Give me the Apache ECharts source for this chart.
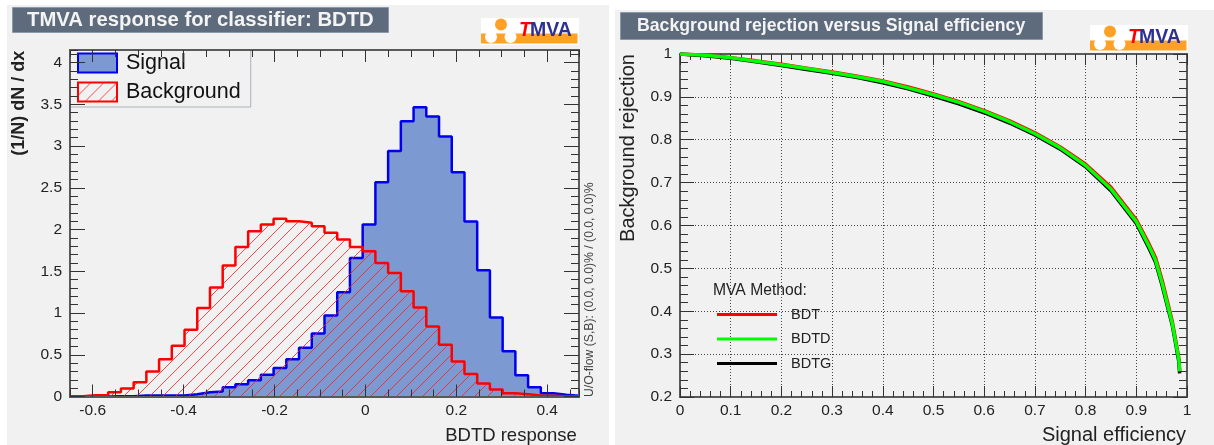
<!DOCTYPE html>
<html>
<head>
<meta charset="utf-8">
<style>html,body{margin:0;padding:0;background:#fff}#c{width:1214px;height:445px}</style>
<script src="https://cdn.jsdelivr.net/npm/echarts@6/dist/echarts.min.js"></script>
</head>
<body>
<div id="c"></div>
<script>
// ---- response histogram (40 bins) ----
const histMin = -0.65;
const histMax = 0.47;
const signalHist = [0,0,0,.004,.004,.012,.012,.012,.012,.028,.05,.06,.11,.148,.195,.26,.34,.447,.583,.754,.97,1.25,1.66,2.06,2.566,2.94,3.297,3.465,3.353,3.113,2.686,2.096,1.513,.946,.543,.255,.11,.04,.02,.008];
const backgroundHist = [.003,.015,.015,.05,.095,.17,.30,.447,.607,.80,1.06,1.305,1.57,1.79,1.98,2.06,2.13,2.10,2.08,2.04,1.96,1.88,1.79,1.74,1.60,1.48,1.26,1.066,.838,.62,.42,.27,.155,.085,.04,.028,.012,.008,.004,.002];
const histXTicks = [-0.6,-0.4,-0.2,0,0.2,0.4];
const histYTicks = [0,0.5,1,1.5,2,2.5,3,3.5,4];
// ---- ROC curves ----
const efficiency = [0,.05,.1,.15,.2,.25,.3,.35,.4,.45,.5,.55,.6,.65,.7,.75,.8,.85,.9,.925,.938,.951,.961,.971,.978,.984,.9855];
const rejBDT  = [1,.997,.991,.984,.976,.967,.958,.948,.937,.923,.907,.889,.868,.844,.816,.783,.743,.689,.613,.557,.525,.472,.424,.376,.330,.290,.262];
const rejBDTD = [1,.997,.991,.983,.975,.966,.957,.947,.936,.921,.905,.887,.866,.842,.814,.781,.740,.685,.609,.552,.519,.465,.418,.371,.326,.287,.260];
const rejBDTG = [1,.996,.990,.982,.973,.964,.955,.945,.933,.919,.902,.884,.863,.839,.811,.778,.737,.681,.605,.547,.514,.460,.413,.367,.322,.282,.255];

const FONT = '"Liberation Sans", Arial, sans-serif';
const frame = '#5a5a5a', tick = '#333', ink = '#222';

// Seamless hatch tile: a rising diagonal, repeated across tile borders.
function hatch(size, color, width) {
  const c = document.createElement('canvas');
  c.width = c.height = size;
  const g = c.getContext('2d');
  g.strokeStyle = color; g.lineWidth = width;
  [-size, 0, size].forEach(d => {
    g.beginPath(); g.moveTo(d - 1, size + 1); g.lineTo(d + size + 1, -1); g.stroke();
  });
  return {image: c, repeat: 'repeat'};
}
function stepData(values) {
  const w = (histMax - histMin) / values.length;
  const pts = values.map((v, i) => [histMin + i * w, v]);
  pts.push([histMax, values[values.length - 1]]);
  return pts;
}
function pairs(xs, ys) { return xs.map((x, i) => [x, ys[i]]); }

const lineOf = {show: true, onZero: false, lineStyle: {color: frame, width: 2}};
const hiddenLabel = {show: false};

function histAxis(pos, gridIndex, opts) {
  return Object.assign({
    type: 'value', gridIndex, position: pos, z: 10, axisLine: lineOf,
    splitLine: {show: false}, axisLabel: hiddenLabel
  }, opts);
}
const xAxes = [
  // minor layer
  histAxis('bottom',0,{min:histMin,max:histMax,interval:0.05,axisTick:{inside:true,length:7,lineStyle:{color:tick}}}),
  histAxis('top',0,{min:histMin,max:histMax,interval:0.05,axisTick:{inside:true,length:7,lineStyle:{color:tick}}}),
  // major layer
  histAxis('bottom',1,{min:histMin,max:histMax,
    axisTick:{inside:true,length:12,customValues:histXTicks,lineStyle:{color:tick}},
    axisLabel:{show:true,customValues:histXTicks,margin:6,fontFamily:FONT,fontSize:15.5,color:ink,formatter:v=>String(v)},
    name:'BDTD response',nameLocation:'middle',nameGap:30,
    nameTextStyle:{fontFamily:FONT,fontSize:18.5,color:ink,padding:[0,0,0,373]}}),
  histAxis('top',1,{min:histMin,max:histMax,axisTick:{inside:true,length:12,customValues:histXTicks,lineStyle:{color:tick}}}),
  // ROC
  {type:'value',gridIndex:2,position:'bottom',min:0,max:1,interval:0.1,axisLine:lineOf,
    axisTick:{inside:true,length:11,lineStyle:{color:tick}},
    minorTick:{show:true,splitNumber:5,length:6,lineStyle:{color:tick}},
    splitLine:{show:true,lineStyle:{color:'#444',type:[1,2],width:1}},
    axisLabel:{margin:6,fontFamily:FONT,fontSize:15.5,color:ink},
    name:'Signal efficiency',nameLocation:'middle',nameGap:28,
    nameTextStyle:{fontFamily:FONT,fontSize:20,color:ink,padding:[0,0,0,361]}},
  {type:'value',gridIndex:2,position:'top',min:0,max:1,interval:0.1,axisLine:lineOf,
    axisTick:{inside:true,length:11,lineStyle:{color:tick}},
    minorTick:{show:true,splitNumber:5,length:6,lineStyle:{color:tick}},
    splitLine:{show:false},axisLabel:hiddenLabel}
];
const yAxes = [
  histAxis('left',0,{min:0,max:4.15,interval:0.1,axisTick:{inside:true,length:8,lineStyle:{color:tick}}}),
  histAxis('right',0,{min:0,max:4.15,interval:0.1,axisTick:{inside:true,length:8,lineStyle:{color:tick}}}),
  histAxis('left',1,{min:0,max:4.15,
    axisTick:{inside:true,length:15,customValues:histYTicks,lineStyle:{color:tick}},
    axisLabel:{show:true,customValues:histYTicks,margin:8,fontFamily:FONT,fontSize:15.5,color:ink,formatter:v=>String(v)},
    name:'(1/N) dN / dx',nameLocation:'middle',nameGap:42,
    nameTextStyle:{fontFamily:FONT,fontSize:18,fontWeight:'bold',color:ink,padding:[0,0,0,240]}}),
  histAxis('right',1,{min:0,max:4.15,axisTick:{inside:true,length:15,customValues:histYTicks,lineStyle:{color:tick}}}),
  {type:'value',gridIndex:2,position:'left',min:0.2,max:1,interval:0.1,axisLine:lineOf,
    axisTick:{inside:true,length:14,lineStyle:{color:tick}},
    minorTick:{show:true,splitNumber:5,length:8,lineStyle:{color:tick}},
    splitLine:{show:true,lineStyle:{color:'#444',type:[1,2],width:1}},
    axisLabel:{margin:8,fontFamily:FONT,fontSize:15.5,color:ink},
    name:'Background rejection',nameLocation:'middle',nameGap:42,
    nameTextStyle:{fontFamily:FONT,fontSize:20,color:ink,padding:[0,0,0,155]}},
  {type:'value',gridIndex:2,position:'right',min:0.2,max:1,interval:0.1,axisLine:lineOf,
    axisTick:{inside:true,length:14,lineStyle:{color:tick}},
    minorTick:{show:true,splitNumber:5,length:8,lineStyle:{color:tick}},
    splitLine:{show:false},axisLabel:hiddenLabel}
];

function logo(x, y) {
  return {type:'group',x,y,children:[
    {type:'rect',shape:{x:0,y:0,width:98,height:27},style:{fill:'#fff'}},
    {type:'rect',shape:{x:0,y:15.5,width:96.5,height:10},style:{fill:'#ffa126'}},
    {type:'circle',shape:{cx:20,cy:6.5,r:6},style:{fill:'#ffa126'}},
    {type:'circle',shape:{cx:10,cy:19,r:6},style:{fill:'#fff'}},
    {type:'circle',shape:{cx:29.5,cy:19,r:6},style:{fill:'#fff'}},
    {type:'text',x:38,y:13,style:{text:'T',fontFamily:FONT,fontStyle:'italic',fontWeight:'bold',fontSize:19.5,fill:'#f00',verticalAlign:'middle'}},
    {type:'text',x:49,y:13,style:{text:'MVA',fontFamily:FONT,fontWeight:'bold',fontSize:19.5,fill:'#2e3192',verticalAlign:'middle'}}
  ]};
}

const option = {
  animation:false,
  backgroundColor:'#fff',
  title:[
    {text:'TMVA response for classifier: BDTD',left:12,top:7,padding:[3,15,3,15],backgroundColor:'#5d6b7d',borderColor:'#8a98a8',borderWidth:1,
     textStyle:{fontFamily:FONT,fontSize:20.3,fontWeight:'bold',color:'#f4f4f4'}},
    {text:'Background rejection versus Signal efficiency',left:620,top:12,padding:[5,17,5,17],backgroundColor:'#5d6b7d',borderColor:'#8a98a8',borderWidth:1,
     textStyle:{fontFamily:FONT,fontSize:17.7,fontWeight:'bold',color:'#f4f4f4'}},
    {text:'MVA Method:',left:713,top:283,padding:0,textStyle:{fontFamily:FONT,fontSize:15.7,fontWeight:'normal',color:ink}}
  ],
  grid:[
    {left:70,top:50,width:509,height:346.5,outerBoundsMode:'none'},
    {left:70,top:50,width:509,height:346.5,outerBoundsMode:'none'},
    {left:680,top:54,width:507,height:343,outerBoundsMode:'none'}
  ],
  xAxis:xAxes,
  yAxis:yAxes,
  legend:[
    {left:70,top:50,orient:'vertical',padding:[2,10,4,7],itemGap:7,itemWidth:39,itemHeight:19,
     backgroundColor:'#f1f1f1',borderColor:'#aab2bc',borderWidth:1,selectedMode:false,
     textStyle:{fontFamily:FONT,fontSize:21.5,color:'#111',padding:[0,0,0,4]},
     data:[
      {name:'Signal',icon:'rect',itemStyle:{color:'#7d99d1',borderColor:'#0000ee',borderWidth:2}},
      {name:'Background',icon:'rect',itemStyle:{color:hatch(13,'rgba(255,30,30,0.8)',1),borderColor:'#f00',borderWidth:2}}
     ]},
    {left:717,top:307,orient:'vertical',padding:0,itemGap:9.5,itemWidth:60,itemHeight:3,selectedMode:false,
     textStyle:{fontFamily:FONT,fontSize:14.5,color:ink,padding:[0,0,0,9]},
     data:[
      {name:'BDT',icon:'rect',itemStyle:{color:'#f00',borderWidth:0}},
      {name:'BDTD',icon:'rect',itemStyle:{color:'#0f0',borderWidth:0}},
      {name:'BDTG',icon:'rect',itemStyle:{color:'#000',borderWidth:0}}
     ]}
  ],
  series:[
    {name:'Signal',type:'line',xAxisIndex:0,yAxisIndex:0,step:'end',symbol:'none',data:stepData(signalHist),
     lineStyle:{color:'#0000ee',width:2.5},itemStyle:{color:'#0000ee'},areaStyle:{color:'#7d99d1',opacity:1},z:2},
    {name:'Background',type:'line',xAxisIndex:0,yAxisIndex:0,step:'end',symbol:'none',data:stepData(backgroundHist),
     lineStyle:{color:'#f00',width:2.5},itemStyle:{color:'#f00'},areaStyle:{color:hatch(13,'rgba(255,30,30,0.8)',1),opacity:1},z:3},
    {name:'BDT',type:'line',xAxisIndex:4,yAxisIndex:4,symbol:'none',data:pairs(efficiency,rejBDT),lineStyle:{color:'#f00',width:3.5},itemStyle:{color:'#f00'},z:3},
    {name:'BDTG',type:'line',xAxisIndex:4,yAxisIndex:4,symbol:'none',data:pairs(efficiency,rejBDTG),lineStyle:{color:'#000',width:3.5},itemStyle:{color:'#000'},z:4},
    {name:'BDTD',type:'line',xAxisIndex:4,yAxisIndex:4,symbol:'none',data:pairs(efficiency,rejBDTD),lineStyle:{color:'#0f0',width:3.5},itemStyle:{color:'#0f0'},z:5}
  ],
  graphic:[
    {type:'rect',z:-100,silent:true,shape:{x:7,y:5,width:602,height:440},style:{fill:'#f1f1f1'}},
    {type:'rect',z:-100,silent:true,shape:{x:615,y:10,width:599,height:435},style:{fill:'#f1f1f1'}},
    logo(481,18),
    logo(1090,25),
    {type:'text',x:590,y:397,rotation:Math.PI/2,style:{text:'U/O-flow (S,B): (0.0, 0.0)% / (0.0, 0.0)%',fontFamily:FONT,fontSize:12.2,fill:'#444',verticalAlign:'middle',align:'left'}}
  ]
};
const chart = echarts.init(document.getElementById('c'), null, {renderer:'canvas'});
chart.setOption(option);
</script>
</body>
</html>
